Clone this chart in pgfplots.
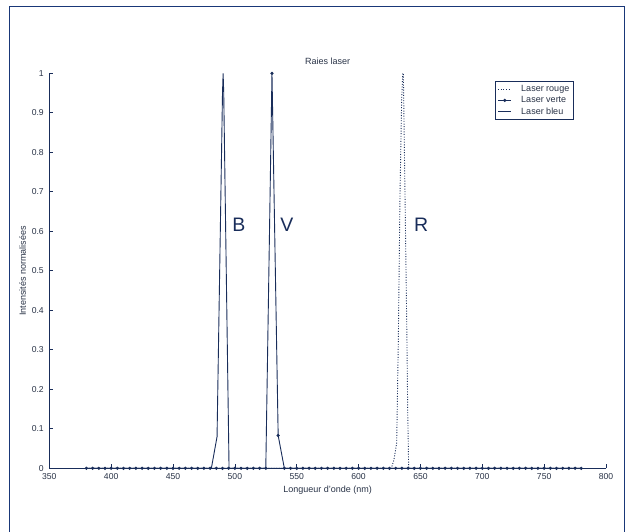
\documentclass[border=0pt]{standalone}
\usepackage{fontspec}
\setmainfont{Liberation Sans}
\usepackage{pgfplots}
\pgfplotsset{compat=1.18}
\definecolor{lc}{RGB}{25,45,90}
\definecolor{tc}{RGB}{40,50,70}
\definecolor{fc}{RGB}{25,55,120}
\begin{document}
\begin{tikzpicture}[x=1pt,y=1pt]
\path[use as bounding box] (0,0) rectangle (627,532);
\draw[fc, line width=1.6pt] (9.5,0) -- (9.5,525.5) -- (624.5,525.5) -- (624.5,0);
\begin{axis}[
  at={(49.3pt,63.7pt)}, anchor=south west,
  scale only axis, width=556.7pt, height=395pt,
  xmin=350, xmax=800, ymin=0, ymax=1,
  axis x line=bottom, axis y line=left,
  axis line style={-, lc, line width=0.7pt},
  tick align=inside, major tick length=4pt,
  tick style={lc, line width=0.7pt},
  xtick={350,400,...,800},
  ytick={0,0.1,...,1},
  /pgf/number format/assume math mode=true,
  /pgf/number format/.cd, fixed, precision=1, /pgfplots/.cd,
  every tick label/.append style={font=\fontsize{8.6}{10}\selectfont, text=tc},
  xticklabel style={anchor=base, inner sep=0pt, yshift=-11.7pt},
  yticklabel style={xshift=-2pt},
  title={Raies laser},
  title style={font=\fontsize{9}{10}\selectfont, text=tc, at={(axis description cs:0.5,1)}, anchor=base, inner sep=0pt, yshift=2.3pt},
  xlabel={Longueur d'onde (nm)},
  xlabel style={font=\fontsize{9}{10}\selectfont, text=tc, at={(axis description cs:0.5,0)}, anchor=base, inner sep=0pt, yshift=-24.7pt},
  ylabel={Intensités normalisées},
  ylabel style={font=\fontsize{9}{10}\selectfont, text=tc, at={(axis description cs:-0.0419,0.5)}, anchor=base, inner sep=0pt},
  legend cell align=left,
  legend style={at={(axis description cs:0.8006,0.9805)}, anchor=north west, draw=lc, line width=0.7pt,
    font=\fontsize{9}{10}\selectfont, text=tc, inner xsep=2.5pt, inner ysep=2pt, row sep=-0.5pt,
    /tikz/every odd column/.append style={column sep=7.5pt},
    /tikz/every even column/.append style={column sep=6pt}},
  legend image code/.code={\draw[mark repeat=2,mark phase=2,#1] plot coordinates {(0pt,0pt) (6.5pt,0pt) (13pt,0pt)};},
  clip=false,
]
% Laser rouge
\addplot[lc, line width=0.9pt, dash pattern=on 1pt off 1.6pt] coordinates {
(380,0) (626.4,0) (628.5,0.02) (630.8,0.064) (632.1,0.317) (633.5,0.697) (634.8,0.93) (635.7,1) (636.2,1) (637.5,0.7) (639,0.35) (639.7,0.148) (640.5,0) (780,0)};
\addlegendentry{Laser rouge}
% Laser verte
\addplot[lc, line width=0.9pt, mark=*, mark size=1.1pt, mark options={solid, fill=lc}] coordinates {
(380,0) (385,0) (390,0) (395,0) (400,0) (405,0) (410,0) (415,0) (420,0) (425,0)
(430,0) (435,0) (440,0) (445,0) (450,0) (455,0) (460,0) (465,0) (470,0) (475,0)
(480,0) (485,0) (490,0) (495,0) (500,0) (505,0) (510,0) (515,0) (520,0) (525,0)
(530,1) (535,0.083) (540,0) (545,0) (550,0) (555,0) (560,0) (565,0) (570,0) (575,0)
(580,0) (585,0) (590,0) (595,0) (600,0) (605,0) (610,0) (615,0) (620,0) (625,0)
(630,0) (635,0) (640,0) (645,0) (650,0) (655,0) (660,0) (665,0) (670,0) (675,0)
(680,0) (685,0) (690,0) (695,0) (700,0) (705,0) (710,0) (715,0) (720,0) (725,0)
(730,0) (735,0) (740,0) (745,0) (750,0) (755,0) (760,0) (765,0) (770,0) (775,0)
(780,0)};
\addlegendentry{Laser verte}
% Laser bleu
\addplot[lc, line width=0.9pt] coordinates {
(380,0) (481,0) (485.6,0.08) (490,0.95) (490.5,1) (491,0.95) (495.3,0) (780,0)};
\addlegendentry{Laser bleu}
\node[text=lc, font=\fontsize{19.5}{22}\selectfont] at (axis cs:503.3,0.616) {B};
\node[text=lc, font=\fontsize{19.5}{22}\selectfont] at (axis cs:542.1,0.616) {V};
\node[text=lc, font=\fontsize{19.5}{22}\selectfont] at (axis cs:650.5,0.616) {R};
\end{axis}
\end{tikzpicture}
\end{document}
